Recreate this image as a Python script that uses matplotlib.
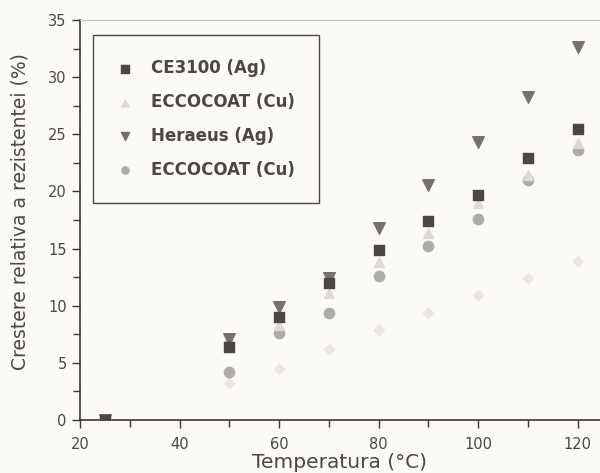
import matplotlib
matplotlib.use("Agg")
import matplotlib.pyplot as plt
from matplotlib.ticker import MultipleLocator

temps = [25, 50, 60, 70, 80, 90, 100, 110, 120]
ce3100_ag = [0, 6.4, 9.0, 12.0, 14.9, 17.4, 19.7, 22.9, 25.5]
eccocoat_cu_1 = [0, 7.2, 8.3, 11.1, 13.8, 16.4, 19.0, 21.4, 24.2]
heraeus_ag = [0, 7.1, 9.9, 12.4, 16.8, 20.6, 24.3, 28.3, 32.6]
eccocoat_cu_2 = [0, 4.2, 7.6, 9.4, 12.6, 15.2, 17.6, 21.0, 23.6]
extra_series = [0, 3.2, 4.5, 6.2, 7.9, 9.4, 10.9, 12.4, 13.9]

labels = ["CE3100 (Ag)", "ECCOCOAT (Cu)", "Heraeus (Ag)", "ECCOCOAT (Cu)"]
xticks = [20, 40, 60, 80, 100, 120]
yticks = [0, 5, 10, 15, 20, 25, 30, 35]

plt.rcParams['font.family'] = ['DejaVu Sans']
bg = '#fbfaf4'
txt = '#4a4744'

fig = plt.figure(figsize=(6.0, 4.73), dpi=100, facecolor=bg)
ax = fig.add_axes([80/600, 1-420/473, 1-80/600, 400/473])
ax.set_facecolor(bg)

ax.scatter(temps, extra_series, marker='D', s=28, color='#ebe7dc', zorder=2)
h4 = ax.scatter(temps, eccocoat_cu_2, marker='o', s=55, color='#aeaca8', zorder=3)
h2 = ax.scatter(temps, eccocoat_cu_1, marker='^', s=50, color='#dcdad3', zorder=3)
h3 = ax.scatter(temps, heraeus_ag, marker='v', s=70, color='#75716c', zorder=4)
h1 = ax.scatter(temps, ce3100_ag, marker='s', s=55, color='#4b4642', zorder=5)

ax.set_xlim(20, 124.5)
ax.set_ylim(0, 35)
ax.set_xticks(xticks)
ax.set_yticks(yticks)
ax.xaxis.set_minor_locator(MultipleLocator(10))
ax.yaxis.set_minor_locator(MultipleLocator(2.5))
ax.tick_params(which='both', direction='out', color='#3a3734', labelcolor=txt,
               labelsize=10.5, width=1.0)
ax.tick_params(which='major', length=6)
ax.tick_params(which='minor', length=5)
ax.tick_params(axis='x', which='major', pad=6)

for s in ['left', 'bottom']:
    ax.spines[s].set_color('#3a3734')
    ax.spines[s].set_linewidth(1.2)
ax.spines['right'].set_visible(False)
ax.spines['top'].set_color('#c8c6c0')
ax.spines['top'].set_linestyle((0, (2, 1)))
ax.spines['top'].set_linewidth(0.8)

ax.set_xlabel("Temperatura (°C)", fontsize=14.5, color=txt, labelpad=1)
ax.set_ylabel("Crestere relativa a rezistentei (%)", fontsize=13.5, color=txt, labelpad=9)
ax.yaxis.set_label_coords(-0.098, 0.52)

leg = ax.legend([h1, h2, h3, h4], labels, loc='upper left', bbox_to_anchor=(0.025, 0.9625),
                borderaxespad=0, frameon=True, fancybox=False,
                prop={'weight': 'bold', 'size': 12}, labelspacing=0.95,
                borderpad=1.45, handletextpad=1.05, handlelength=1.0, markerscale=0.7)
leg.get_frame().set_edgecolor('#4a4744')
leg.get_frame().set_linewidth(1.0)
leg.get_frame().set_facecolor(bg)
leg.get_frame().set_alpha(1)
for t in leg.get_texts():
    t.set_color(txt)

fig.savefig("out.png", dpi=100, facecolor=bg)
